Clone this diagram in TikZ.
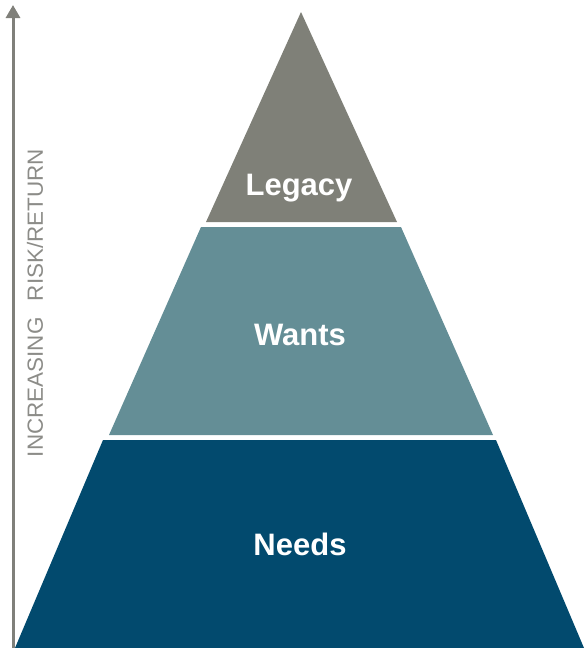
\documentclass[tikz,border=0pt]{standalone}
\usepackage{fontspec}
\setmainfont{Liberation Sans}
\usetikzlibrary{arrows.meta}

\definecolor{legacygray}{RGB}{127,128,120}
\definecolor{wantsteal}{RGB}{100,142,150}
\definecolor{needsblue}{RGB}{2,74,110}
\definecolor{axisgray}{RGB}{128,128,122}
\definecolor{labelgray}{RGB}{140,140,136}

\begin{document}
\begin{tikzpicture}[x=1pt,y=-1pt,>={Triangle[length=13pt,width=14pt]},
	band/.style={draw=none},
	tier/.style={text=white, anchor=base, font=\bfseries\fontsize{31}{31}\selectfont}]
	\useasboundingbox (0,0) rectangle (584,648);

	% The axis
	\coordinate (axisbot) at (13,648);
	\coordinate (axistop) at (13,5);
	\draw[color=axisgray, line width=3pt, ->] (axisbot) -- (axistop);
	\node[rotate=90, text=labelgray, font=\fontsize{22}{22}\selectfont, xscale=1.02] (axislabel) at (35,303) {INCREASING\hspace{16pt}RISK/RETURN};

	% The corners of the bands
	\coordinate (apex) at (301,12);
	\coordinate (legbl) at (206,222);
	\coordinate (legbr) at (397,222);
	\coordinate (wanttl) at (201,227);
	\coordinate (wanttr) at (401,227);
	\coordinate (wantbl) at (109,435);
	\coordinate (wantbr) at (493,435);
	\coordinate (needtl) at (103,440);
	\coordinate (needtr) at (496,440);
	\coordinate (needbl) at (15,648);
	\coordinate (needbr) at (584,648);

	\fill[band, color=legacygray] (apex) -- (legbr) -- (legbl) -- cycle;
	\fill[band, color=wantsteal] (wanttl) -- (wanttr) -- (wantbr) -- (wantbl) -- cycle;
	\fill[band, color=needsblue] (needtl) -- (needtr) -- (needbr) -- (needbl) -- cycle;

	\node[tier] (legacy) at (299,195) {Legacy};
	\node[tier] (wants) at (300,345) {Wants};
	\node[tier] (needs) at (300,555) {Needs};
\end{tikzpicture}
\end{document}
